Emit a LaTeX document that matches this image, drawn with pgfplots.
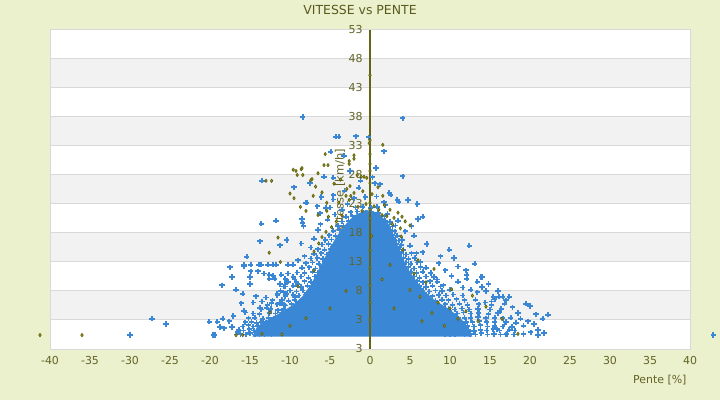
\documentclass[border=0pt]{standalone}
\usepackage{pgfplots}
\pgfplotsset{compat=1.18}
\usepackage{fontspec}
\setmainfont{DejaVu Sans}
\definecolor{bgc}{RGB}{235,240,205}
\definecolor{titc}{RGB}{90,90,30}
\definecolor{tickc}{RGB}{100,100,40}
\definecolor{bandc}{RGB}{242,242,242}
\definecolor{gridc}{RGB}{217,217,217}
\definecolor{ptb}{RGB}{58,135,214}
\definecolor{olv}{RGB}{95,95,0}
\definecolor{olvl}{RGB}{170,170,90}
\definecolor{axc}{RGB}{100,100,20}
\begin{document}
\begin{tikzpicture}
\fill[bgc] (0bp,0bp) rectangle (720bp,400bp);
\node[text=titc, font=\fontsize{12.5}{14}\selectfont] at (360bp,390bp) {VITESSE vs PENTE};
\node[text=tickc, font=\fontsize{11}{13}\selectfont, anchor=east] at (690bp,20bp) {Pente [\%]};
\begin{axis}[at={(50bp,51bp)}, anchor=south west, scale only axis,
  width=640bp, height=319bp,
  xmin=-40, xmax=40, ymin=-2, ymax=53, clip=false, axis on top,
  axis background/.style={fill=white},
  axis line style={draw=gridc, line width=1bp},
  xtick={-40,-35,...,40}, ytick={-2,3,...,53},
  yticklabels={3,3,8,13,18,23,28,33,38,43,48,53},
  major tick length=0pt,
  tick label style={font=\fontsize{11}{13}\selectfont, text=tickc},
  /pgf/number format/assume math mode=true,
  yticklabel style={xshift=316bp},
  xticklabel style={yshift=-4bp},
]
\fill[bandc] (axis cs:-40,43) rectangle (axis cs:40,48);
\fill[bandc] (axis cs:-40,33) rectangle (axis cs:40,38);
\fill[bandc] (axis cs:-40,23) rectangle (axis cs:40,28);
\fill[bandc] (axis cs:-40,13) rectangle (axis cs:40,18);
\fill[bandc] (axis cs:-40,3) rectangle (axis cs:40,8);
\draw[gridc, line width=1bp] (axis cs:-40,3) -- (axis cs:40,3);
\draw[gridc, line width=1bp] (axis cs:-40,8) -- (axis cs:40,8);
\draw[gridc, line width=1bp] (axis cs:-40,13) -- (axis cs:40,13);
\draw[gridc, line width=1bp] (axis cs:-40,18) -- (axis cs:40,18);
\draw[gridc, line width=1bp] (axis cs:-40,23) -- (axis cs:40,23);
\draw[gridc, line width=1bp] (axis cs:-40,28) -- (axis cs:40,28);
\draw[gridc, line width=1bp] (axis cs:-40,33) -- (axis cs:40,33);
\draw[gridc, line width=1bp] (axis cs:-40,38) -- (axis cs:40,38);
\draw[gridc, line width=1bp] (axis cs:-40,43) -- (axis cs:40,43);
\draw[gridc, line width=1bp] (axis cs:-40,48) -- (axis cs:40,48);
\node[text=tickc, rotate=90, font=\fontsize{11.5}{13}\selectfont] at (axis cs:-3.75,25.4) {Vitesse [km/h]};
% dense core
\addplot[fill=ptb, draw=ptb, line width=2bp] coordinates {
(-14.5,0.3) (-14,1.8) (-12.5,3) (-11,4.2) (-9.5,5.5) (-8.3,7) (-7.3,9) (-6.5,11) (-5.8,13) (-5,15) (-4.2,17) (-3.2,19) (-2,20.8) (-0.5,21.8) (1,21.3) (2.2,19.5) (3,17) (3.7,14.5) (4.5,12) (5.5,10) (6.6,8) (8,6.3) (9.5,5) (11,3.5) (12,2) (12.6,0.3)
} -- cycle;
% scattered points
\addplot[only marks, mark=+, mark size=2.6bp, color=ptb, mark options={line width=1.7bp}] coordinates {
(-16.7,0.5)(-16.2,0.6)(-15.5,0.5)(-15,0.7)(-14.4,0.5)(-13.8,0.6)(-13.2,0.5)(-12.7,0.7)(-12.3,0.5)
(-16.4,1.3)(-15.8,1.2)(-15.1,1.4)(-14.5,1.2)(-13.9,1.3)(-13.4,1.1)(-12.8,1.3)(-12.4,1.2)
(-15.9,1.9)(-15.2,2.1)(-14.6,1.9)(-14,2)(-13.5,1.8)(-12.9,2.1)(-12.2,1.9)
(-15.6,2.6)(-14.8,2.7)(-14.2,2.5)(-13.6,2.7)(-13,2.6)(-12.4,2.8)
(-15.2,3.3)(-14.4,3.4)(-13.4,3.2)(-12.7,3.4)(-12,3.3)(-11.4,3.5)
(-14.6,4.1)(-13.8,4)(-12.6,4.2)(-11.8,4.1)(-11,4.3)(-10.4,4.1)
(-13.6,4.8)(-12.4,4.9)(-11.5,4.7)(-10.8,4.9)(-10,4.8)(-9.3,5)
(-12.8,5.6)(-11.6,5.7)(-10.6,5.5)(-9.8,5.7)(-9,5.6)(-8.4,5.8)
(-12.2,6.4)(-11,6.5)(-10.2,6.3)(-9.4,6.5)(-8.6,6.4)(-8,6.6)
(-11.6,7.2)(-10.6,7.1)(-9.6,7.3)(-8.9,7.2)(-8.1,7.4)(-7.4,7.2)
(-11.2,8)(-10,8.1)(-9.2,7.9)(-8.4,8.1)(-7.6,8)
(-10.8,8.8)(-9.6,8.9)(-8.6,8.7)(-7.8,8.9)(-7.1,8.8)
(-10.2,9.6)(-9.2,9.5)(-8.2,9.7)(-7.4,9.6)(-6.7,9.8)
(-9.6,10.4)(-8.6,10.5)(-7.7,10.3)(-6.9,10.5)(-6.3,10.4)
(-9.1,11.2)(-8.2,11.1)(-7.2,11.3)(-6.5,11.2)(-5.9,11.4)
(-8.5,12)(-7.6,12.1)(-6.8,11.9)(-6.1,12.1)(-5.5,12)
(-8,12.8)(-7.2,12.9)(-6.4,12.7)(-5.7,12.9)
(-7.4,13.6)(-6.6,13.7)(-5.9,13.5)(-5.2,13.7)
(-7,14.4)(-6.1,14.5)(-5.4,14.3)(-4.8,14.5)
(-6.5,15.2)(-5.7,15.1)(-4.9,15.3)(-4.4,15.2)
(-6,16)(-5.2,16.1)(-4.5,15.9)(-3.9,16.1)
(-5.6,16.8)(-4.8,16.9)(-4.1,16.7)(-3.6,16.9)
(-5.1,17.6)(-4.3,17.5)(-3.5,17.7)(-3,17.6)
(-4.6,18.4)(-3.8,18.5)(-3.1,18.3)(-2.6,18.5)
(-4,19.2)(-3.3,19.3)(-2.6,19.1)(-2,19.3)
(-3.5,20)(-2.7,20.1)(-2,19.9)(-1.4,20.1)
(-3,20.8)(-2.2,20.9)(-1.4,20.7)(-0.7,20.9)
(-2.4,21.6)(-1.6,21.7)(-0.8,21.5)(0.2,21.7)(1,21.5)
(-1.8,22.4)(-0.9,22.5)(0.1,22.3)(0.9,22.5)
(9.4,0.5)(10,0.6)(10.6,0.5)(11.2,0.7)(11.8,0.5)(12.5,0.6)(13.2,0.5)(13.9,0.7)(14.7,0.5)(15.5,0.6)(16.3,0.5)(17.1,0.6)(18,0.5)
(9.2,1.2)(9.8,1.3)(10.4,1.2)(11,1.4)(11.7,1.2)(12.3,1.3)(13,1.1)(13.8,1.3)(14.6,1.2)(15.4,1.4)(16.2,1.2)(17.4,1.3)
(8.9,1.9)(9.5,2)(10.2,1.9)(10.8,2.1)(11.5,1.9)(12.2,2)(13,1.9)(13.8,2.1)(14.7,1.9)(15.6,2)(16.6,1.9)
(8.5,2.6)(9.2,2.7)(9.9,2.6)(10.6,2.8)(11.3,2.6)(12,2.7)(12.8,2.6)(13.7,2.8)(14.6,2.6)(15.6,2.7)(17,2.7)
(8.2,3.3)(8.9,3.4)(9.6,3.3)(10.3,3.5)(11,3.3)(11.8,3.4)(12.6,3.3)(13.5,3.5)(14.5,3.3)(15.6,3.4)(16.6,3.3)
(7.9,4.1)(8.6,4.2)(9.3,4)(10.1,4.2)(10.9,4.1)(11.7,4.3)(12.6,4.1)(13.6,4.2)(14.8,4)(16,4.2)
(7.5,4.8)(8.2,4.9)(9,4.7)(9.8,4.9)(10.6,4.8)(11.5,5)(12.4,4.8)(13.5,4.9)(15,4.8)(16.4,4.9)
(7.1,5.6)(7.8,5.7)(8.6,5.5)(9.4,5.7)(10.3,5.6)(11.2,5.8)(12.2,5.6)(13.6,5.7)(15.2,5.6)
(6.7,6.4)(7.4,6.5)(8.2,6.3)(9,6.5)(9.8,6.4)(10.8,6.6)(11.8,6.4)(13.2,6.5)
(6.3,7.2)(7,7.3)(7.8,7.1)(8.6,7.3)(9.5,7.2)(10.4,7.4)(11.6,7.2)
(5.9,8)(6.6,8.1)(7.4,7.9)(8.2,8.1)(9,8)(10,8.2)
(5.5,8.8)(6.2,8.9)(7,8.7)(7.8,8.9)(8.8,8.8)
(5.2,9.6)(5.9,9.7)(6.6,9.5)(7.5,9.7)(8.4,9.6)
(4.8,10.4)(5.5,10.5)(6.2,10.3)(7,10.5)(8,10.4)
(4.5,11.2)(5.1,11.3)(5.8,11.1)(6.6,11.3)(7.6,11.2)
(4.2,12)(4.8,12.1)(5.5,11.9)(6.3,12.1)
(3.9,12.8)(4.5,12.9)(5.1,12.7)(5.9,12.9)
(3.6,13.6)(4.2,13.7)(4.8,13.5)(5.6,13.7)
(3.3,14.4)(3.9,14.5)(4.5,14.3)(5.2,14.5)
(3.1,15.2)(3.6,15.3)(4.2,15.1)
(2.8,16)(3.3,16.1)(3.9,15.9)
(2.6,16.8)(3.1,16.9)(3.6,16.7)
(2.3,17.6)(2.8,17.7)(3.4,17.5)
(2,18.4)(2.5,18.5)(3.1,18.3)
(1.7,19.2)(2.2,19.3)(2.8,19.1)
(1.4,20)(1.9,20.1)(2.5,19.9)
(1.2,20.8)(1.8,20.9)
(-8.4,38)(4.1,37.8)(-4.25,34.6)(-3.9,34.6)(-1.75,34.7)(-0.2,34.5)(1.75,32.1)(-4.9,32)(-3.25,31.3)
(-13.5,27)(-9.5,25.9)(-7.5,26.6)(-5.75,27.7)(-4.6,27.5)(-2.5,28.7)(0.75,29.2)(4.1,27.8)
(0.6,26.6)(1.25,26.4)(2.4,24.9)(2.6,24.6)(3.4,23.7)(3.6,23.4)(4.75,23.7)(5.9,23)
(-7.9,23.2)(-6.1,24.2)(-4.6,24.5)(-4.6,23.8)(-6.6,22.6)(-5.5,22.3)(-5,22.4)(-6.25,21.4)
(1.75,23.3)(1.9,22.8)(6.6,20.8)(6,20.4)(-8.5,20.4)(-8,23.2)(-11.75,20.1)(-13.6,19.6)(-8.4,19.7)(-8.3,19.2)(3.5,20.1)
(-13.75,16.6)(-11.25,15.9)(-10.4,16.8)(-15.4,13.9)(-17.5,12.1)(-15.75,12.3)(-17.25,10.4)(-18.5,9)
(-16.75,8.2)(-16.1,5.9)(-15.9,7.5)(-14.25,7.1)(-13,6.9)(-27.25,3.2)(-25.5,2.3)(-30,0.4)
(-19.6,0.4)(-19.4,0.4)(-20.1,2.7)(-19.1,2.7)(-18.4,3.2)(-18.75,1.8)(-18.25,1.6)(-17.6,2.8)(-17.25,1.8)(-17.1,3.7)(-16.5,0.9)(42.9,0.4)
(-15.75,12.5)(-14.9,12.5)(-13.9,12.5)(-13.6,12.5)(-12.75,12.5)(-12.1,12.5)(-11.75,12.5)(-10.25,12.5)(-9.6,12.5)
(-14.9,11.4)(-14,11.4)(-13.25,11)(-12.6,10.8)(-12.1,10.6)(-11.1,10.8)(-10.25,11)(-9.1,11.2)
(-15,10.4)(-12.6,10.1)(-11.9,10.1)(-10.6,10.1)(-10.4,9.6)(-9.4,10)(-15,9.2)(-11.25,9.2)(-10.6,8.8)(-10.4,9.4)(-9.1,9.2)
(-11.6,7.5)(-10.8,7.8)(-10.4,7.5)(-9.3,7)(-13.75,5.1)(-12.9,5.1)(-15.75,4.6)(-15.6,4.3)(-11.25,5.9)(-10.75,5.6)(-9.1,5.9)(-14.6,6)(-13.5,6.2)(-12.3,5.9)
(-7,17)(-6.5,18.5)(-7.4,15.5)(-8.2,14)(-9,13.3)(-8.6,16.2)(-6.2,19.5)(-5.3,20.3)(-4.4,21.2)(-3.5,22)(-2.8,23)(-2,24)(-3.2,25.3)(-1.4,25.8)(-0.6,24.2)(-1.2,27)(0.3,27.6)(0.8,24.3)
(2.2,21.3)(3.2,19.3)(4.4,18.3)(5.2,19.2)(4,16.8)(5,15.8)(5.8,14.5)(6.3,13)(7,12)(7.6,11)(8.4,10)(9.2,9)
(5.5,17.5)(7.1,16.1)(9.9,15.1)(12.4,15.8)(6.6,14.7)(10.5,13.7)(13.1,12.7)(13.9,10.4)(12.1,10.8)(13.4,9.6)
(15.4,7)(16.1,7)(16.6,7)(17.4,7)(19.5,5.8)(20,5.4)(20.75,4)(22.25,3.9)(21.6,3.2)(19.75,2.8)(20.5,2.3)(21,1.3)(21.75,0.76)(20.1,0.9)
(18.5,4.2)(18.25,2.5)(17.75,1.8)(18.1,1.2)(19.2,0.6)(21,0.4)(14,10.4)(12.1,10.1)(14,8.7)(13.4,7.8)
(8.6,12.8)(9.4,11.6)(10.2,10.6)(11,9.6)(11.6,8.6)(12.6,8.2)(14.4,6)(16.8,5.8)(17.8,5.2)(16.2,4.4)(17.6,3.4)(15.2,6.2)
(8.8,14)(11,12.2)(12,11.6)(14.8,9.2)(16,8)(15.6,6.6)(17,6.4)(18.8,3.2)(19.2,2)(16.8,2.2)(15.9,1.4)(17,0.5)(14.5,8)
};
\draw[axc, line width=1.3bp] (axis cs:0,-2) -- (axis cs:0,53);
\addplot[only marks, mark=diamond*, mark size=1.6bp, mark options={draw=olv, fill=olvl, line width=0.7bp}] coordinates {
(-41.25,0.4)(-36,0.4)(-16.75,0.4)(-15.9,0.4)(0,45.2)(0,34)(-0.1,33.5)(1.6,33.2)(0,31.6)(0,29.9)(0,28.7)(0,26.6)(0,23.2)(0,22)(0,20.5)
(-5.6,31.6)(-5.75,29.7)(-5.25,29.7)(-9.6,28.9)(-9.25,28.7)(-8.6,29)(-8.4,28)(-9.1,28)(-6.5,28.3)(-7.4,27.1)(-7.25,27.3)(-13,27)(-12.3,27)
(-2.6,30.4)(-2.6,29.9)(-2,31.4)(-2,30.8)(-1.6,28)(-1.1,27.7)(-0.75,27.7)(-2.5,26.1)(-2.9,25.6)(-0.9,25.2)(-0.4,27.5)
(-3,24.4)(-2.6,23.7)(-2.4,24.4)(-2,24.9)(-7.1,24.4)(-5.4,23.2)(-3.9,23.2)(-5.4,21.8)(-6.5,21.1)
(1,25.9)(0.25,24.7)(1.6,24.4)(1.1,22)(1.5,21.1)(2.1,20.9)(3,20.6)(-8.5,29.2)
(-1.5,22.5)(-1,21.8)(-0.5,23)(0.5,22.6)(1.8,22.8)(2.5,22)(3.5,21.5)(4,20.8)(2.8,19.5)(3.8,18.8)
(-3.5,21)(-4.2,20)(-4.8,19)(-5.5,18.2)(-6,17.3)(-6.4,16.2)(-7,14.8)(-4.5,26.5)(-3.7,27.2)(-6.8,26)(-6,25)
(-8,21.8)(-8.7,22.5)(-9.5,24)(-10,24.8)(-11.5,17.2)(-5.2,20.8)(4.4,20)(5,19.3)(3.9,17.4)
(4.1,15.1)(6.25,7)(7.75,4.2)(5.5,11)(7,9.5)(8.5,6)(10,5)(11,3.2)(12,4.5)(13.5,2.8)(14.5,5.3)(9.3,2)(6.5,2.8)(3,5)
(1.5,10)(0,15)(0,12)(0,9)(0,6)(0,3)(0.2,17.5)(2.5,12.5)(5,8.2)(-3,8)(-5,5)(-8,3.3)(-10,2)(-12.5,4.3)(-13.5,0.6)(-11,0.5)
(-9,8.8)(-7,11.5)(-11.2,13)(-12.6,14.6)(16.5,3.2)(18.5,0.6)(12.8,7.2)(10.2,8.3)(8,11.8)(6,13.3)
};
\end{axis}
\end{tikzpicture}
\end{document}
